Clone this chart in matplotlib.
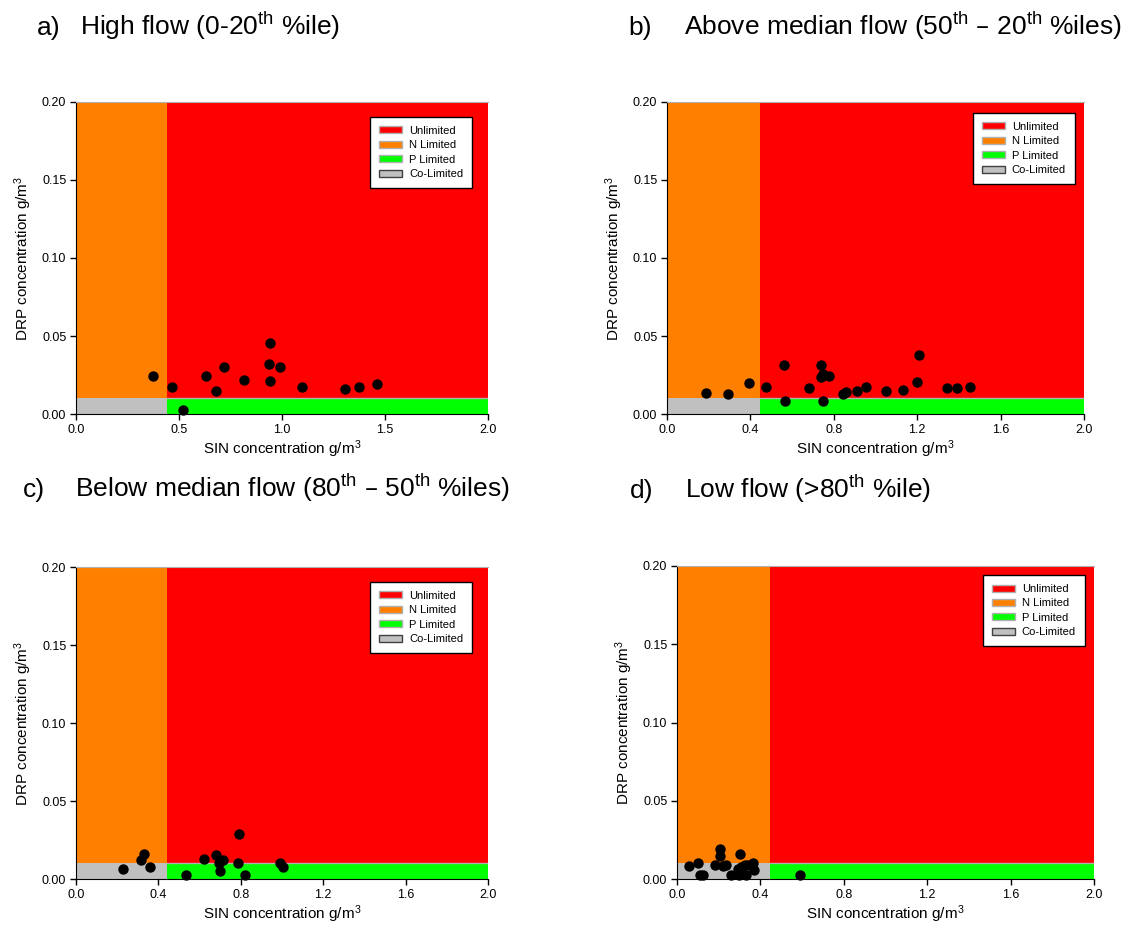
import matplotlib
matplotlib.use("Agg")
import matplotlib.pyplot as plt
from matplotlib.patches import Rectangle, Patch

plt.rcParams['font.family'] = ['Liberation Sans', 'DejaVu Sans']
plt.rcParams['mathtext.default'] = 'regular'

# thresholds (SIN, DRP)
sin_limit = 0.444
drp_limit = 0.01

# a) high flow
a_x = [0.372, 0.468, 0.519, 0.631, 0.679, 0.720, 0.814, 0.939, 0.944, 0.941, 0.992, 1.099, 1.304, 1.373, 1.463]
a_y = [0.0242, 0.0171, 0.0026, 0.0242, 0.0150, 0.0301, 0.0220, 0.0321, 0.0453, 0.0212, 0.0301, 0.0171, 0.0160, 0.0171, 0.0192]

# b) above median flow
b_x = [0.187, 0.294, 0.391, 0.473, 0.559, 0.567, 0.680, 0.739, 0.739, 0.747, 0.750, 0.778, 0.843, 0.859,
       0.909, 0.953, 1.049, 1.131, 1.199, 1.209, 1.342, 1.390, 1.455]
b_y = [0.0137, 0.0126, 0.0196, 0.0175, 0.0314, 0.0086, 0.0169, 0.0314, 0.0235, 0.0256, 0.0086, 0.0246, 0.0126, 0.0143,
       0.0145, 0.0175, 0.0145, 0.0156, 0.0205, 0.0377, 0.0164, 0.0164, 0.0175]

# c) below median flow
c_x = [0.228, 0.317, 0.328, 0.357, 0.534, 0.623, 0.679, 0.694, 0.700, 0.713, 0.785, 0.792, 0.819, 0.992, 1.006]
c_y = [0.0061, 0.0121, 0.0163, 0.0080, 0.0026, 0.0131, 0.0153, 0.0102, 0.0051, 0.0121, 0.0102, 0.0291, 0.0026, 0.0102, 0.0080]

# d) low flow
d_x = [0.059, 0.101, 0.112, 0.123, 0.180, 0.204, 0.206, 0.221, 0.235, 0.260, 0.294, 0.297, 0.304, 0.308,
       0.324, 0.332, 0.339, 0.363, 0.371, 0.591]
d_y = [0.0081, 0.0100, 0.0028, 0.0028, 0.0092, 0.0148, 0.0193, 0.0081, 0.0091, 0.0028, 0.0064, 0.0028, 0.0158, 0.0075,
       0.0089, 0.0028, 0.0087, 0.0103, 0.0060, 0.0028]

letters = ['a)', 'b)', 'c)', 'd)']
titles = ['High flow (0-20$^{th}$ %ile)',
          'Above median flow (50$^{th}$ \u2013 20$^{th}$ %iles)',
          'Below median flow (80$^{th}$ \u2013 50$^{th}$ %iles)',
          'Low flow (>80$^{th}$ %ile)']
x_ticks = [[0.0, 0.5, 1.0, 1.5, 2.0], [0.0, 0.4, 0.8, 1.2, 1.6, 2.0],
           [0.0, 0.4, 0.8, 1.2, 1.6, 2.0], [0.0, 0.4, 0.8, 1.2, 1.6, 2.0]]
y_ticks = [0.00, 0.05, 0.10, 0.15, 0.20]

region_names = ['Unlimited', 'N Limited', 'P Limited', 'Co-Limited']
region_colors = ['#ff0000', '#ff8000', '#00ff00', '#c0c0c0']

W, H = 1136, 935
fig = plt.figure(figsize=(W / 100, H / 100), dpi=100)

# axes boxes in pixels: left, top, right, bottom
boxes = [(76, 102, 488, 414), (667, 102, 1084, 414), (76, 567, 488, 879), (677, 566, 1094, 879)]
title_pos = [(37, 80, 35), (628, 684, 35), (23, 75, 497), (630, 685, 498)]
legend_anchor = [(0.961, 0.952), (0.978, 0.965), (0.961, 0.952), (0.978, 0.971)]
data = [(a_x, a_y), (b_x, b_y), (c_x, c_y), (d_x, d_y)]

for i in range(4):
    l, t, r, b = boxes[i]
    ax = fig.add_axes([l / W, 1 - b / H, (r - l) / W, (b - t) / H])

    # limitation regions
    ax.add_patch(Rectangle((sin_limit, drp_limit), 2 - sin_limit, 0.2 - drp_limit,
                           facecolor=region_colors[0], edgecolor='none', zorder=0))
    ax.add_patch(Rectangle((0, drp_limit), sin_limit, 0.2 - drp_limit,
                           facecolor=region_colors[1], edgecolor='none', zorder=0))
    ax.add_patch(Rectangle((sin_limit, 0), 2 - sin_limit, drp_limit,
                           facecolor=region_colors[2], edgecolor='none', zorder=0))
    ax.add_patch(Rectangle((0, 0), sin_limit, drp_limit,
                           facecolor=region_colors[3], edgecolor='none', zorder=0))
    ax.plot([sin_limit, 2], [drp_limit, drp_limit], color='#b0b0b0', lw=1, zorder=1)

    x, y = data[i]
    ax.scatter(x, y, s=42, color='black', zorder=3, clip_on=False)

    ax.set_xlim(0, 2)
    ax.set_ylim(0, 0.2)
    ax.set_xticks(x_ticks[i])
    ax.set_xticklabels(['%.1f' % v for v in x_ticks[i]])
    ax.set_yticks(y_ticks)
    ax.set_yticklabels(['%.2f' % v for v in y_ticks])
    ax.tick_params(direction='out', length=4, width=1, labelsize=9, pad=3)
    ax.spines['right'].set_visible(False)
    ax.spines['top'].set_color('#b0b0b0')
    ax.set_xlabel('SIN concentration g/m$^3$', fontsize=11, labelpad=2)
    ax.set_ylabel('DRP concentration g/m$^3$', fontsize=11, labelpad=6)

    handles = []
    for name, col in zip(region_names, region_colors):
        ec = '#404040' if name == 'Co-Limited' else '#b0b0b0'
        handles.append(Patch(facecolor=col, edgecolor=ec, label=name))
    leg = ax.legend(handles=handles, loc='upper right', bbox_to_anchor=legend_anchor[i],
                    fontsize=8, fancybox=False, framealpha=1, edgecolor='black',
                    handlelength=2.1, handleheight=0.6, labelspacing=0.4,
                    handletextpad=0.6, borderpad=0.8, borderaxespad=0)
    leg.get_frame().set_linewidth(1)

    lx, tx, base = title_pos[i]
    fig.text(lx / W, 1 - base / H, letters[i], fontsize=19, va='baseline')
    fig.text(tx / W, 1 - base / H, titles[i], fontsize=19, va='baseline')

plt.savefig('out.png', dpi=100)
